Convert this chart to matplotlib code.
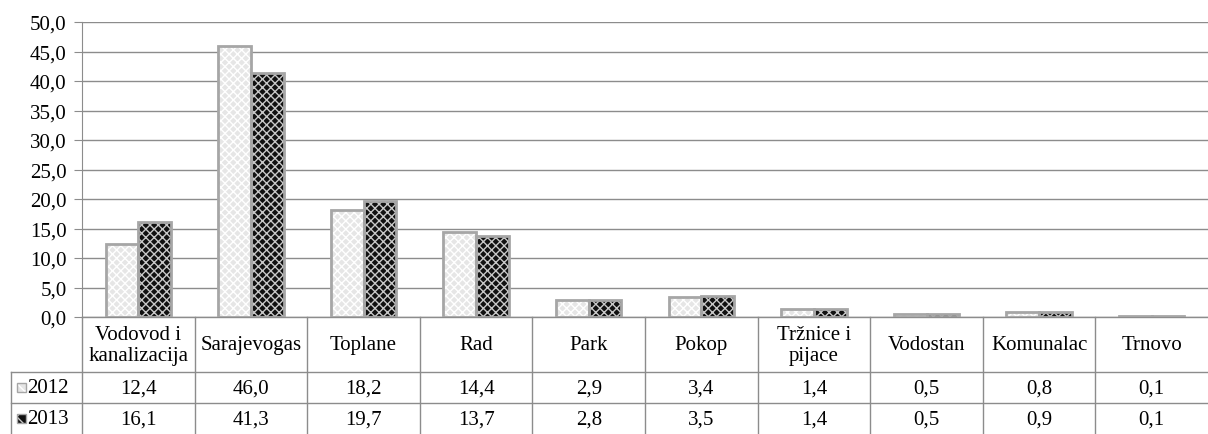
import matplotlib
matplotlib.use("Agg")
import matplotlib.pyplot as plt
import matplotlib.transforms as mtransforms
import numpy as np

categories = ["Vodovod i\nkanalizacija", "Sarajevogas", "Toplane", "Rad", "Park",
              "Pokop", "Tržnice i\npijace", "Vodostan", "Komunalac", "Trnovo"]
series_names = ["2012", "2013"]
values_2012 = [12.4, 46.0, 18.2, 14.4, 2.9, 3.4, 1.4, 0.5, 0.8, 0.1]
values_2013 = [16.1, 41.3, 19.7, 13.7, 2.8, 3.5, 1.4, 0.5, 0.9, 0.1]
yticks = [0, 5, 10, 15, 20, 25, 30, 35, 40, 45, 50]

plt.rcParams['font.family'] = ['Liberation Serif', 'DejaVu Serif']
plt.rcParams['hatch.linewidth'] = 1.0

W, H = 1208, 435
fig = plt.figure(figsize=(W / 100, H / 100), dpi=100)
left_px, right_px, top_px, bot_px = 82, 1208, 23, 318
ax = fig.add_axes([left_px / W, 1 - bot_px / H, (right_px - left_px) / W, (bot_px - top_px) / H])

n = len(categories)
x = np.arange(n)
bw = 0.29
styles = [
    dict(face='#e6e6e6', hatch='xxxx', hcol='#ffffff'),
    dict(face='#111111', hatch='xxxx', hcol='#c8c8c8'),
]
for k, vals in enumerate([values_2012, values_2013]):
    xs = x + (k - 0.5) * bw
    st = styles[k]
    ax.bar(xs, vals, width=bw, color=st['face'], hatch=st['hatch'], edgecolor=st['hcol'],
           linewidth=0, zorder=2)
    ax.bar(xs, vals, width=bw, fill=False, edgecolor='#a6a6a6', linewidth=2, zorder=3)

fs = 15
ax.set_xlim(-0.5, n - 0.5)
ax.set_ylim(0, 50)
ax.set_yticks(yticks)
ax.set_yticklabels([f"{v:.1f}".replace('.', ',') for v in yticks], fontsize=fs)
ax.yaxis.grid(True, color='#8c8c8c', linewidth=1)
ax.set_axisbelow(True)
ax.set_xticks([])
for s in ['top', 'right', 'bottom']:
    ax.spines[s].set_visible(False)
ax.spines['left'].set_color('#8c8c8c')
ax.tick_params(axis='y', length=6, color='#8c8c8c', pad=5, labelcolor='black')

# data table
tr = mtransforms.blended_transform_factory(ax.transData, fig.transFigure)
def fy(py):
    return 1 - py / H

line_kw = dict(color='#8c8c8c', linewidth=1, clip_on=False)
ax.plot([-0.5, n - 0.5], [fy(318)] * 2, transform=tr, **line_kw)
for py in [373, 404]:
    fig.add_artist(plt.Line2D([11 / W, 1.0], [fy(py)] * 2, transform=fig.transFigure,
                              color='#8c8c8c', linewidth=1))
for b in np.arange(n - 1) + 0.5:
    ax.plot([b, b], [fy(318), fy(435)], transform=tr, **line_kw)
ax.plot([-0.5, -0.5], [fy(318), fy(435)], transform=tr, **line_kw)
fig.add_artist(plt.Line2D([11 / W, 11 / W], [fy(373), fy(435)], transform=fig.transFigure,
                          color='#8c8c8c', linewidth=1))

for i, c in enumerate(categories):
    ax.text(i, fy(346), c, transform=tr, ha='center', va='center', fontsize=fs,
            linespacing=1.1)
    ax.text(i, fy(389), f"{values_2012[i]:.1f}".replace('.', ','), transform=tr,
            ha='center', va='center', fontsize=fs)
    ax.text(i, fy(420), f"{values_2013[i]:.1f}".replace('.', ','), transform=tr,
            ha='center', va='center', fontsize=fs)

for k, (name, py) in enumerate(zip(series_names, [389, 420])):
    st = styles[k]
    fig.add_artist(plt.Rectangle((17 / W, fy(py) - 4 / H), 9 / W, 9 / H, transform=fig.transFigure,
                                 facecolor=st['face'], hatch='xx', edgecolor=st['hcol'], linewidth=0))
    fig.add_artist(plt.Rectangle((17 / W, fy(py) - 4 / H), 9 / W, 9 / H, transform=fig.transFigure,
                                 fill=False, edgecolor='#a6a6a6', linewidth=1))
    fig.text(27 / W, fy(py), name, ha='left', va='center', fontsize=fs)

fig.savefig("out.png", dpi=100)
